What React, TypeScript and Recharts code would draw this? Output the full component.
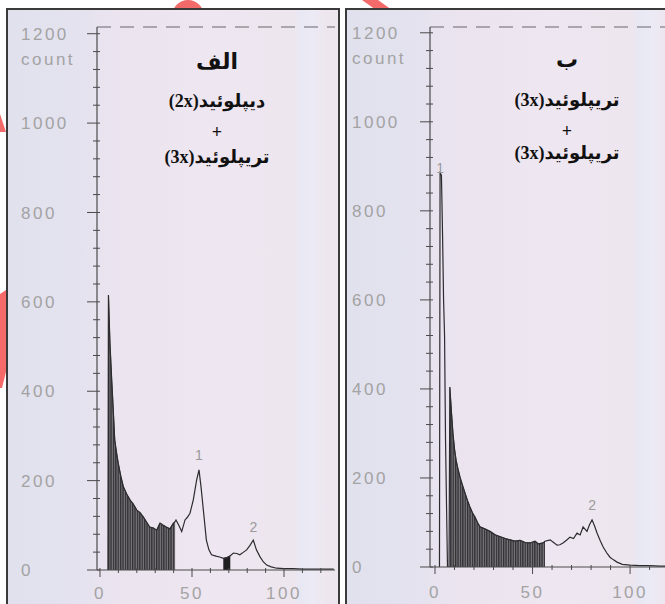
import React from 'react';
import { ComposedChart, Area, Line, XAxis, YAxis, ReferenceLine, ReferenceDot } from 'recharts';

// Panel "الف": DNA content channel vs. cell count
const LEFT_CHANNELS = [
  4.4, 4.6, 5.0, 5.4, 6.3, 7.2, 8.0, 9.0, 9.9, 11.3, 12.7, 14.5, 16.3, 18.0, 20.0, 21.8, 23.5, 25.2,
  27.0, 29.0, 30.8, 32.6, 34.4, 36.0, 38.0, 39.9, 40.8, 41.3, 42.8, 44.4, 46.2, 47.5, 48.9, 50.7,
  52.5, 53.8, 54.9, 56.0, 57.8, 59.2, 60.6, 63.0, 65.0, 67.0, 69.0, 70.8, 72.5, 74.3, 76.0, 78.0,
  79.7, 81.5, 83.3, 85.0, 86.9, 88.8, 90.6, 93.0, 96.0, 100, 105, 110, 115, 120, 127,
];
const LEFT_COUNTS = [
  0, 615, 560, 508, 430, 358, 291, 262, 239, 210, 186, 170, 157, 148, 134, 128, 119, 108,
  96, 94, 89, 105, 100, 96, 92, 105, 108, 112, 100, 86, 112, 118, 127, 157,
  201, 224, 186, 141, 67, 45, 34, 31, 29, 26, 28, 32, 38, 37, 34, 40,
  45, 55, 67, 45, 30, 18, 11, 7, 4, 3, 3, 2, 2, 2, 2,
];
const LEFT_GATE = [4.4, 40.8];
const LEFT_DEBRIS_GATE = [66.8, 70.8];
const LEFT_PEAKS = [
  { name: '1', ch: 53.8, count: 224, offset: 10 },
  { name: '2', ch: 83.3, count: 67, offset: 8 },
];

// Panel "ب"
const RIGHT_CHANNELS = [
  2.3, 2.6, 3.3, 3.9, 4.4, 4.9, 5.4, 6.4, 7.2, 7.6, 8.4, 9.2, 10.0, 10.8, 11.8, 12.8, 14.0, 15.4,
  16.6, 17.9, 19.2, 20.5, 21.8, 23.1, 25.5, 28.2, 31.0, 33.5, 36.0, 38.5, 41.0, 43.6, 46.2, 48.7,
  51.3, 53.0, 55.4, 56.4, 59.0, 60.8, 62.6, 64.0, 65.6, 67.4, 69.2, 71.0, 72.8, 74.4, 75.9, 77.9,
  79.2, 80.5, 81.8, 83.1, 84.6, 86.2, 88.0, 89.7, 91.5, 93.3, 96.0, 100, 105, 110, 115, 118,
];
const RIGHT_COUNTS = [
  0, 885, 880, 740, 600, 520, 285, 0, 0, 404, 350, 300, 265, 240, 220, 202, 185, 166,
  150, 135, 122, 112, 100, 90, 86, 80, 72, 68, 64, 61, 58, 60, 55, 54,
  58, 52, 54, 58, 61, 55, 49, 50, 54, 60, 67, 64, 76, 72, 90, 80,
  95, 106, 92, 76, 60, 45, 32, 22, 16, 11, 6, 4, 3, 3, 2, 2,
];
const RIGHT_GATE = [7.4, 56.4];
const RIGHT_PEAKS = [
  { name: '1', ch: 2.6, count: 885, offset: 0 },
  { name: '2', ch: 80.5, count: 106, offset: 10 },
];

const Y_TICKS = Array.from({ length: 31 }, (_, i) => i * 40);
const X_TICKS = Array.from({ length: 13 }, (_, i) => i * 10);

const AXIS = '#4a4a4a';
const TICK_TEXT = '#a3a3a3';
const TICK_FONT = "'Liberation Sans', Arial, sans-serif";

const toRows = (chs: number[], counts: number[]) => chs.map((ch, i) => ({ ch, count: counts[i] }));
const inGate = (rows: { ch: number; count: number }[], gate: number[]) =>
  rows.filter((r) => r.ch >= gate[0] && r.ch <= gate[1]);

function CountTick(props: any) {
  const { x, y, payload, labelOffset } = props;
  const v = payload.value;
  const major = v % 200 === 0;
  return (
    <g>
      <line x1={major ? x - 10 : x - 4} x2={x + 3} y1={y} y2={y} stroke={AXIS} strokeWidth={1} />
      {major && (
        <text x={x - labelOffset} y={y} dy="0.36em" fill={TICK_TEXT} fontSize={17} letterSpacing={2.5} fontFamily={TICK_FONT}>
          {v}
        </text>
      )}
      {v === 1200 && (
        <text x={x - labelOffset} y={y + 25} dy="0.36em" fill={TICK_TEXT} fontSize={17} letterSpacing={2.5} fontFamily={TICK_FONT}>
          count
        </text>
      )}
    </g>
  );
}

function ChannelTick(props: any) {
  const { x, y, payload, labelGap } = props;
  const v = payload.value;
  const major = v % 50 === 0;
  return (
    <g>
      <line x1={x} x2={x} y1={y - 2} y2={y + (major ? 7 : 3)} stroke={AXIS} strokeWidth={1} />
      {major && (
        <text x={x} y={y + labelGap} dy="0.36em" textAnchor="middle" fill={TICK_TEXT} fontSize={17} letterSpacing={2.5} fontFamily={TICK_FONT}>
          {v}
        </text>
      )}
    </g>
  );
}

type PanelProps = {
  id: string;
  rows: { ch: number; count: number }[];
  gates: { rows: { ch: number; count: number }[]; solid: boolean }[];
  peaks: { name: string; ch: number; count: number; offset: number }[];
  width: number;
  xDomain: [number, number];
  yMax: number;
  axisWidth: number;
  xAxisHeight: number;
  marginRight: number;
  labelOffset: number;
  labelGap: number;
};

function Histogram(p: PanelProps) {
  return (
    <ComposedChart width={p.width} height={604} margin={{ top: 27, right: p.marginRight, bottom: 0, left: 0 }}>
      <defs>
        <pattern id={`hatch-${p.id}`} width={2.4} height={5} patternUnits="userSpaceOnUse">
          <rect width={2.4} height={5} fill="#7b797e" />
          <rect width={1.3} height={5} fill="#2f2e31" />
        </pattern>
      </defs>
      <XAxis
        type="number"
        dataKey="ch"
        domain={p.xDomain}
        allowDataOverflow
        ticks={X_TICKS}
        interval={0}
        height={p.xAxisHeight}
        tickSize={0}
        tickMargin={0}
        tickLine={false}
        axisLine={{ stroke: AXIS, strokeWidth: 1.2 }}
        tick={(t: any) => <ChannelTick {...t} labelGap={p.labelGap} />}
      />
      <YAxis
        type="number"
        dataKey="count"
        domain={[0, p.yMax]}
        allowDataOverflow
        ticks={Y_TICKS}
        interval={0}
        width={p.axisWidth}
        tickSize={0}
        tickMargin={0}
        tickLine={false}
        axisLine={{ stroke: AXIS, strokeWidth: 1.2 }}
        tick={(t: any) => <CountTick {...t} labelOffset={p.labelOffset} />}
      />
      <ReferenceLine y={p.yMax} stroke="#6d6b70" strokeWidth={1.5} strokeDasharray="14 9" strokeOpacity={0.7} />
      {p.gates.map((g, i) => (
        <Area
          key={i}
          data={g.rows}
          dataKey="count"
          type="linear"
          fill={g.solid ? '#1f1e20' : `url(#hatch-${p.id})`}
          fillOpacity={1}
          stroke="#333"
          strokeWidth={0.8}
          isAnimationActive={false}
        />
      ))}
      <Line data={p.rows} dataKey="count" type="linear" stroke="#2c2b2e" strokeWidth={1.2} dot={false} isAnimationActive={false} />
      {p.peaks.map((pk) => (
        <ReferenceDot
          key={pk.name}
          x={pk.ch}
          y={pk.count}
          r={0}
          fill="none"
          stroke="none"
          label={{ value: pk.name, position: 'top', offset: pk.offset, fill: '#9a9a9a', fontSize: 14, fontFamily: TICK_FONT }}
        />
      ))}
    </ComposedChart>
  );
}

const persian: React.CSSProperties = {
  position: 'absolute',
  width: 200,
  textAlign: 'center',
  direction: 'rtl',
  fontFamily: "'Liberation Serif', 'DejaVu Sans', serif",
  fontWeight: 'bold',
  color: '#111',
  lineHeight: 1,
};

function Caption({ cx, lines }: { cx: number; lines: { text: string; y: number; size: number }[] }) {
  return (
    <>
      {lines.map((l, i) => (
        <div key={i} style={{ ...persian, left: cx - 100, top: l.y - l.size / 2, fontSize: l.size }}>
          {l.text}
        </div>
      ))}
    </>
  );
}

const panelBg =
  'linear-gradient(90deg, #e1e1ee 0px, #e4e2ef 70px, #ebe4ef 110px, #eee6f0 200px, #eee6ef 285px, #e8e8f4 292px, #ebeaf5 305px, #eee6ef 318px)';

export default function App() {
  const leftRows = toRows(LEFT_CHANNELS, LEFT_COUNTS);
  const rightRows = toRows(RIGHT_CHANNELS, RIGHT_COUNTS);

  return (
    <div style={{ position: 'absolute', left: 0, top: 0, width: 665, height: 604, overflow: 'hidden', background: '#fff' }}>
      {/* red stamp fragments behind the panels */}
      <svg width={665} height={604} style={{ position: 'absolute', left: 0, top: 0 }}>
        <circle cx={188} cy={16} r={16} fill="#f36a6a" />
        <polygon points="362,0 378,0 392,10 376,10" fill="#f36a6a" />
        <polygon points="0,114 6,132 0,132" fill="#f36a6a" />
        <polygon points="0,294 6,290 6,372 2,388 0,388" fill="#f76a6a" />
      </svg>

      <div
        style={{
          position: 'absolute', left: 6, top: 8, width: 334, height: 620, boxSizing: 'border-box',
          border: '2px solid #3a3a3a', borderBottom: 'none', background: panelBg,
        }}
      />
      <div
        style={{
          position: 'absolute', left: 345, top: 8, width: 340, height: 620, boxSizing: 'border-box',
          border: '2px solid #3a3a3a', borderBottom: 'none', borderRight: 'none', background: panelBg,
        }}
      />

      <div style={{ position: 'absolute', left: 0, top: 0 }}>
        <Histogram
          id="left"
          rows={leftRows}
          gates={[
            { rows: inGate(leftRows, LEFT_GATE), solid: false },
            { rows: inGate(leftRows, LEFT_DEBRIS_GATE), solid: true },
          ]}
          peaks={LEFT_PEAKS}
          width={338}
          xDomain={[-1.63, 127.7]}
          yMax={1215}
          axisWidth={97}
          xAxisHeight={34}
          marginRight={3}
          labelOffset={76}
          labelGap={23}
        />
      </div>
      <div style={{ position: 'absolute', left: 347, top: 0 }}>
        <Histogram
          id="right"
          rows={rightRows}
          gates={[{ rows: inGate(rightRows, RIGHT_GATE), solid: false }]}
          peaks={RIGHT_PEAKS}
          width={318}
          xDomain={[-2.56, 117.9]}
          yMax={1213}
          axisWidth={83}
          xAxisHeight={37}
          marginRight={0}
          labelOffset={78}
          labelGap={25}
        />
      </div>

      <Caption
        cx={217}
        lines={[
          { text: 'الف', y: 62, size: 22 },
          { text: 'دیپلوئید(2x)', y: 101, size: 18 },
          { text: '+', y: 132, size: 18 },
          { text: 'تریپلوئید(3x)', y: 157, size: 18 },
        ]}
      />
      <Caption
        cx={567}
        lines={[
          { text: 'ب', y: 60, size: 22 },
          { text: 'تریپلوئید(3x)', y: 100, size: 18 },
          { text: '+', y: 131, size: 18 },
          { text: 'تریپلوئید(3x)', y: 153, size: 18 },
        ]}
      />
    </div>
  );
}
